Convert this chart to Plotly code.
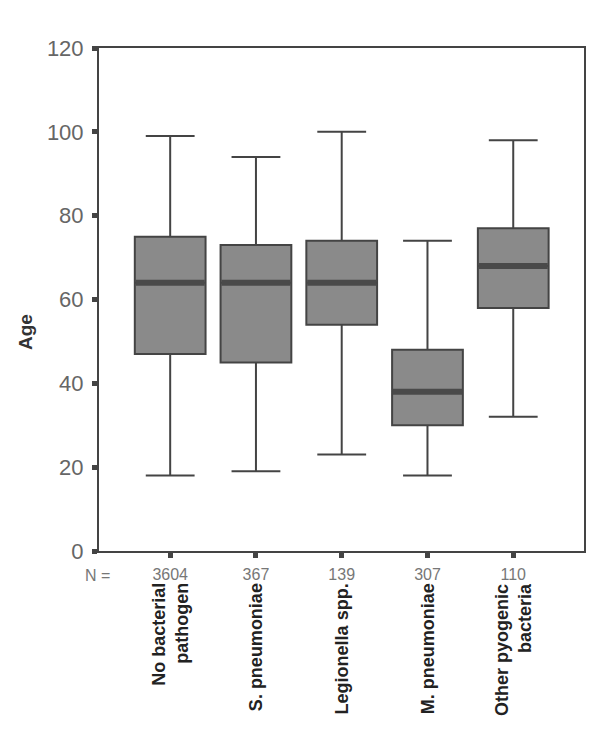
import plotly.graph_objects as go

categories = ["No bacterial<br>pathogen", "S. pneumoniae", "Legionella spp.", "M. pneumoniae", "Other pyogenic<br>bacteria"]
n_counts = ["3604", "367", "139", "307", "110"]
lower_whisker = [18, 19, 23, 18, 32]
q1 = [47, 45, 54, 30, 58]
median = [64, 64, 64, 38, 68]
q3 = [75, 73, 74, 48, 77]
upper_whisker = [99, 94, 100, 74, 98]

pos = list(range(len(categories)))
box_w = 0.825
FONT = "Liberation Sans, Arial"

fig = go.Figure()
fig.add_trace(go.Box(
    x=pos, q1=q1, median=median, q3=q3,
    lowerfence=lower_whisker, upperfence=upper_whisker,
    width=box_w, whiskerwidth=0.69,
    fillcolor="#8a8a8a", line=dict(color="#444444", width=2),
    boxpoints=False, showlegend=False, hoverinfo="skip",
))

# thick median bars
mx, my = [], []
for p, m in zip(pos, median):
    mx += [p - box_w / 2 + 0.01, p + box_w / 2 - 0.01, None]
    my += [m, m, None]
fig.add_trace(go.Scatter(x=mx, y=my, mode="lines",
                         line=dict(color="#4a4a4a", width=6),
                         showlegend=False, hoverinfo="skip"))

for p, c in zip(pos, categories):
    fig.add_annotation(x=p, y=-0.06, xref="x", yref="paper",
                       text="<b>" + c + "</b>", textangle=-90,
                       showarrow=False, xanchor="center", yanchor="top",
                       align="right",
                       font=dict(family=FONT, size=18, color="#222222"))

fig.add_annotation(x=-0.003, y=-0.048, xref="paper", yref="paper", text="N =",
                   showarrow=False, xanchor="center", yanchor="middle",
                   font=dict(family=FONT, size=16, color="#777777"))

fig.add_annotation(x=-0.153, y=0.435, xref="paper", yref="paper", text="<b>Age</b>",
                   textangle=-90, showarrow=False, xanchor="center", yanchor="middle",
                   font=dict(family=FONT, size=19, color="#333333"))

fig.update_layout(
    width=600, height=741,
    margin=dict(l=91, r=24, t=40, b=198),
    paper_bgcolor="white", plot_bgcolor="white",
    xaxis=dict(range=[-0.83, 4.825], tickmode="array", tickvals=pos, ticktext=n_counts,
               showgrid=False, zeroline=False, showline=True, mirror=True,
               linecolor="#444444", linewidth=2,
               ticks="outside", ticklen=5, tickwidth=5, tickcolor="#444444",
               ticklabelstandoff=3,
               tickfont=dict(family=FONT, size=16, color="#777777")),
    yaxis=dict(range=[0, 120], tickvals=[0, 20, 40, 60, 80, 100, 120],
               showgrid=False, zeroline=False, showline=True, mirror=True,
               linecolor="#444444", linewidth=2,
               ticks="outside", ticklen=5, tickwidth=5, tickcolor="#444444",
               ticklabelstandoff=4,
               tickfont=dict(family=FONT, size=22, color="#666666")),
)

fig.write_html("out.html")
